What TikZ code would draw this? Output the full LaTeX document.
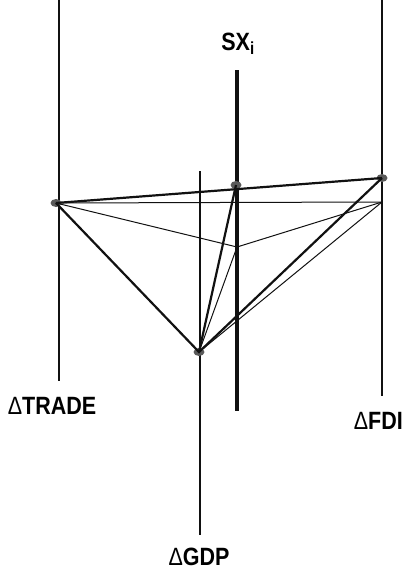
\documentclass[tikz,border=0pt]{standalone}
\usepackage{fontspec}
\setmainfont{Liberation Sans}
\newfontfamily\labelfont{Liberation Sans}[FakeStretch=0.86]
\usetikzlibrary{shapes.geometric}
\definecolor{ink}{HTML}{111111}
\definecolor{dotgrey}{HTML}{5A5A5A}
\tikzset{
  axisline/.style={draw=ink,line width=1.3pt},
  sxline/.style={draw=ink,line width=3.2pt},
  edge/.style={draw=ink,line width=2.2pt},
  thinedge/.style={draw=ink,line width=1pt},
  dot/.style={ellipse,fill=dotgrey,minimum width=11pt,minimum height=8pt,inner sep=0pt},
  lbl/.style={font=\labelfont\bfseries\fontsize{25}{25}\selectfont,inner sep=0pt}
}
\newcommand{\dlt}{{\mdseries\char"0394}}
\begin{document}
\begin{tikzpicture}[x=1pt,y=-1pt]
  \useasboundingbox (0,0) rectangle (404,573);
  % axes
  \coordinate (tradeTop) at (59,0);
  \coordinate (tradeEnd) at (59,381);
  \coordinate (fdiTop) at (382,0);
  \coordinate (fdiEnd) at (382,396);
  \coordinate (sxTop) at (237,70);
  \coordinate (sxEnd) at (237,411);
  \coordinate (gdpTop) at (200,171);
  \coordinate (gdpEnd) at (200,535);
  \draw[axisline] (tradeTop) -- (tradeEnd);
  \draw[axisline] (fdiTop) -- (fdiEnd);
  \draw[axisline] (gdpTop) -- (gdpEnd);
  \draw[sxline] (sxTop) -- (sxEnd);
  % points
  \coordinate (mid) at (237,247);
  \coordinate (corner) at (382,202);
  \node[dot] (trade) at (56,203) {};
  \node[dot] (sx) at (236,185) {};
  \node[dot] (fdi) at (382,178) {};
  \node[dot] (gdp) at (199,352) {};
  % thin web
  \draw[thinedge] (trade.center) -- (corner);
  \draw[thinedge] (trade.center) -- (mid) -- (corner);
  \draw[thinedge] (gdp.center) -- (mid);
  \draw[thinedge] (gdp.center) -- (corner);
  % thick web
  \draw[edge] (trade.center) -- (fdi.center);
  \draw[edge] (trade.center) -- (gdp.center) -- (fdi.center);
  \draw[edge] (gdp.center) -- (sx.center);
  % labels
  \node[lbl] (sxlab) at (238,44) {SX\textsubscript{i}};
  \node[lbl] (tradelab) at (52,406) {\dlt TRADE};
  \node[lbl,anchor=east] (fdilab) at (403,421) {\dlt FDI};
  \node[lbl] (gdplab) at (199,557) {\dlt GDP};
\end{tikzpicture}
\end{document}
